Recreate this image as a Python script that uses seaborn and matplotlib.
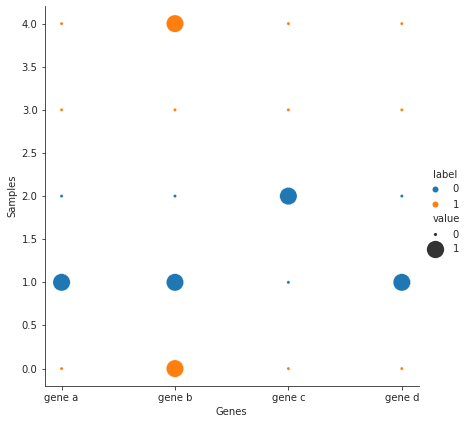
import matplotlib
matplotlib.use("Agg")
import matplotlib.pyplot as plt
from matplotlib import offsetbox
import seaborn as sns
import pandas as pd

genes = ["gene a", "gene b", "gene c", "gene d"]
samples = [0, 1, 2, 3, 4]
sample_labels = [1, 0, 0, 1, 1]
# values[sample][gene]
values = [
    [0, 1, 0, 0],
    [1, 1, 0, 1],
    [0, 0, 1, 0],
    [0, 0, 0, 0],
    [0, 1, 0, 0],
]

rows = []
for s, lab, vals in zip(samples, sample_labels, values):
    for g, v in zip(genes, vals):
        rows.append({"Genes": g, "Samples": s, "label": lab, "value": v})
df = pd.DataFrame(rows)

sns.set_style("ticks")
g = sns.relplot(data=df, x="Genes", y="Samples", hue="label", size="value",
                sizes={0: 10, 1: 300}, palette=["#1f77b4", "#ff7f0e"],
                height=5.9, aspect=1.0)
g.fig.set_size_inches(469/72, 424/72)
g.fig.subplots_adjust(left=0.095, right=0.893, bottom=0.09, top=0.985)

leg = g._legend
if leg is not None:
    vp = leg.findobj(offsetbox.VPacker)
    if vp:
        for hp in vp[0].get_children():
            ch = hp.get_children()
            if len(ch) == 2:
                da, ta = ch
                txts = [c for c in ta.get_children() if hasattr(c, "get_text")]
                if txts and txts[0].get_text() in ("label", "value"):
                    da.set_width(0)

g.fig.savefig("out.png", dpi=72)
